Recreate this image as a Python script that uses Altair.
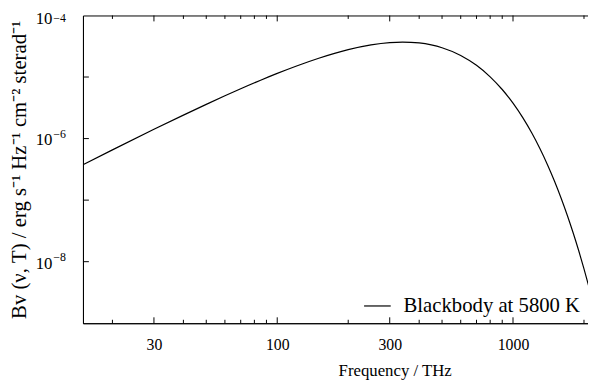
import altair as alt
import pandas as pd

# Frequency (THz) and spectral radiance
freq_thz = [15, 20, 30, 40, 50, 60, 70, 85, 100, 120, 150, 175, 200, 250, 300,
            340, 400, 450, 500, 600, 700, 800, 900, 1000, 1100, 1200, 1300,
            1400, 1500, 1600, 1700, 1800, 1900, 2000, 2100]
b_nu = [3.766e-7, 6.554e-7, 1.413e-6, 2.405e-6, 3.597e-6, 4.954e-6, 6.446e-6,
        8.873e-6, 1.145e-5, 1.500e-5, 2.023e-5, 2.428e-5, 2.787e-5, 3.332e-5,
        3.629e-5, 3.699e-5, 3.577e-5, 3.325e-5, 2.990e-5, 2.239e-5, 1.548e-5,
        1.008e-5, 6.271e-6, 3.759e-6, 2.187e-6, 1.241e-6, 6.898e-7, 3.766e-7,
        2.025e-7, 1.074e-7, 5.633e-8, 2.923e-8, 1.503e-8, 7.663e-9, 3.878e-9]
series_name = "Blackbody at 5800 K"

x_major = [30, 100, 300, 1000]
x_minor = [20, 40, 50, 60, 70, 80, 90, 200, 400, 500, 600, 700, 800, 900, 2000]
y_major = [1e-8, 1e-6, 1e-4]
y_major_base = ["10", "10", "10"]
y_major_exp = ["−8", "−6", "−4"]
y_ticks = [1e-8, 1e-7, 1e-6, 1e-5]

x_title = "Frequency / THz"
y_title = "Bv (ν, T) / erg s⁻¹ Hz⁻¹ cm⁻² sterad⁻¹"

FONT = "Liberation Serif"
W, H = 513, 312
TFS = 16      # tick labels
XFS = 17      # x title
YFS = 21      # y title
LFS = 21      # legend

df = pd.DataFrame({"freq": freq_thz, "b": b_nu, "series": [series_name] * len(freq_thz)})

xscale = alt.Scale(type="log", domain=[15, 2100], nice=False)
yscale = alt.Scale(type="log", domain=[1e-9, 1e-4], nice=False)

line = alt.Chart(df).mark_line(color="black", strokeWidth=1.2, interpolate="monotone", clip=True).encode(
    x=alt.X("freq:Q", scale=xscale,
            axis=alt.Axis(orient="bottom", values=x_major, ticks=False, tickSize=0, labelPadding=14,
                          labelFontSize=TFS, labelFont=FONT, labelColor="black", domainColor="black",
                          grid=False, format="d",
                          title=x_title, titleFont=FONT, titleFontSize=XFS, titleFontWeight="normal",
                          titleColor="black", titleX=316, titleY=53, titleBaseline="alphabetic",
                          titleAlign="center")),
    y=alt.Y("b:Q", scale=yscale,
            axis=alt.Axis(orient="left", values=y_major, ticks=False, tickSize=0, labels=False,
                          domainColor="black", grid=False,
                          title=y_title, titleFont=FONT, titleFontSize=YFS, titleFontWeight="normal",
                          titleColor="black", titleX=-64, titleY=H / 2, titleAngle=-90,
                          titleBaseline="middle", titleAlign="center", titleLimit=0)),
    color=alt.Color("series:N", scale=alt.Scale(range=["black"]),
                    legend=alt.Legend(title=None, orient="none", legendX=284, legendY=280,
                                      symbolType="stroke", symbolSize=729, symbolStrokeWidth=1.2,
                                      labelFont=FONT, labelFontSize=LFS, labelColor="black",
                                      labelLimit=0, labelOffset=12, padding=0, symbolOffset=0)),
)

tx_major = pd.DataFrame({"v": x_major})
tx_minor = pd.DataFrame({"v": x_minor})
ty = pd.DataFrame({"v": y_ticks})
ylab = pd.DataFrame({"v": y_major, "base": y_major_base, "exp": y_major_exp})


def xticks(data, length):
    bottom = alt.Chart(data).mark_rule(color="black", strokeWidth=1).encode(
        x=alt.X("v:Q", scale=xscale, axis=None), y=alt.value(H), y2=alt.value(H - length))
    top = alt.Chart(data).mark_rule(color="black", strokeWidth=1).encode(
        x=alt.X("v:Q", scale=xscale, axis=None), y=alt.value(0), y2=alt.value(length))
    return [bottom, top]


yt = alt.Chart(ty).mark_rule(color="black", strokeWidth=1).encode(
    y=alt.Y("v:Q", scale=yscale, axis=None), x=alt.value(0), x2=alt.value(6))


def ylabels(flt, base_dy, exp_dy):
    b = alt.Chart(ylab).transform_filter(flt).mark_text(
        align="right", baseline="middle", font=FONT, fontSize=17, color="black", dy=base_dy).encode(
        y=alt.Y("v:Q", scale=yscale, axis=None), x=alt.value(-31), text="base:N")
    e = alt.Chart(ylab).transform_filter(flt).mark_text(
        align="left", baseline="middle", font=FONT, fontSize=12, color="black", dy=exp_dy).encode(
        y=alt.Y("v:Q", scale=yscale, axis=None), x=alt.value(-30), text="exp:N")
    return [b, e]


top_value = max(y_major)
inner = ylabels(alt.datum.v < top_value * 0.5, 2, -5)
toplab = ylabels(alt.datum.v >= top_value * 0.5, 4, 3)

chart = alt.layer(line, *xticks(tx_major, 6), *xticks(tx_minor, 3.5), yt, *inner, *toplab).resolve_axis(
    x="independent", y="independent"
).properties(
    width=W, height=H,
    background="white",
    autosize=alt.AutoSizeParams(type="none"),
    padding={"left": 76, "top": 5, "right": -1, "bottom": 57},
).configure_view(stroke="black", strokeWidth=1)

chart.save("out.html", embed_options={"renderer": "svg", "actions": False})
